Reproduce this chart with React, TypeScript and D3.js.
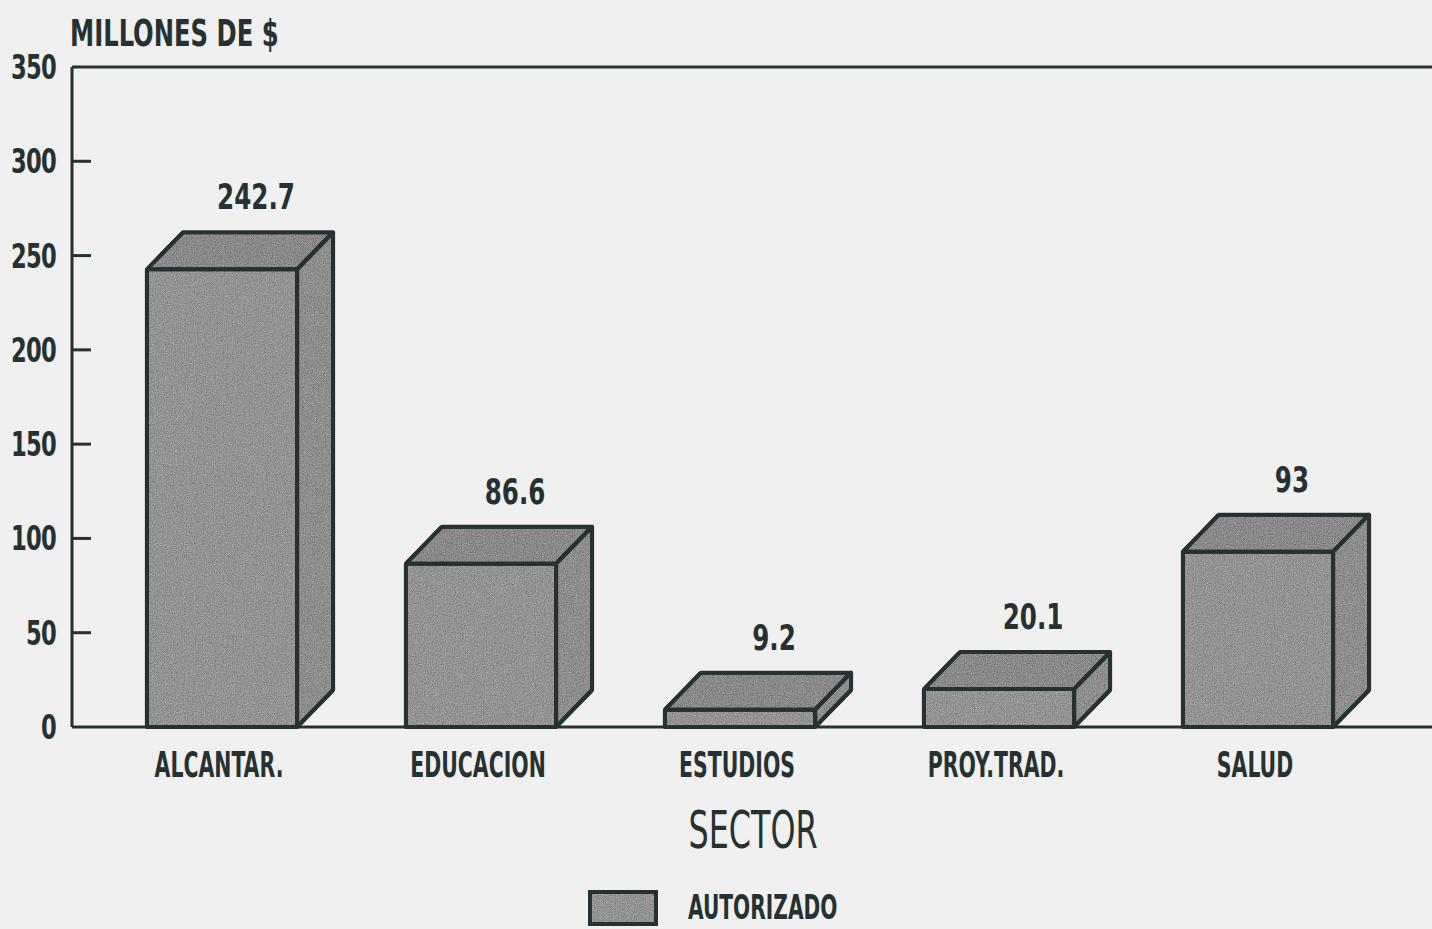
import React, { useEffect, useRef } from "react";
import * as d3 from "d3";

const sectors = ["ALCANTAR.", "EDUCACION", "ESTUDIOS", "PROY.TRAD.", "SALUD"];
const autorizado = [242.7, 86.6, 9.2, 20.1, 93];
const valueLabels = ["242.7", "86.6", "9.2", "20.1", "93"];
const yTicks = [0, 50, 100, 150, 200, 250, 300, 350];

const INK = "#263131";
const FONT = "'DejaVu Sans Condensed', 'DejaVu Sans', sans-serif";

// condensed plotter-style text: squeeze horizontally around the anchor point
function label(
  parent: d3.Selection<any, unknown, null, undefined>,
  x: number,
  y: number,
  str: string,
  size: number,
  sx: number,
  anchor = "start",
  bold = true
) {
  return parent
    .append("text")
    .attr("transform", `translate(${x},${y}) scale(${sx},1)`)
    .attr("text-anchor", anchor)
    .attr("font-family", FONT)
    .attr("font-weight", bold ? "bold" : "normal")
    .attr("font-size", size)
    .attr("fill", INK)
    .text(str);
}

export default function App() {
  const ref = useRef<SVGSVGElement | null>(null);

  useEffect(() => {
    const svg = d3.select(ref.current);
    svg.selectAll("*").remove();

    const W = 1432;
    const H = 929;
    const left = 72;
    const top = 67;
    const bottom = 727;
    const dx = 36;
    const dy = -37;

    // grain filter for the photocopied look
    const defs = svg.append("defs");
    const f = defs.append("filter").attr("id", "grain")
      .attr("x", 0).attr("y", 0).attr("width", 1).attr("height", 1)
      .attr("color-interpolation-filters", "sRGB");
    f.append("feTurbulence").attr("type", "fractalNoise").attr("baseFrequency", 0.9).attr("numOctaves", 2).attr("seed", 3).attr("result", "n");
    f.append("feColorMatrix").attr("in", "n").attr("type", "matrix")
      .attr("values", "0.34 0.33 0.33 0 0  0.34 0.33 0.33 0 0  0.34 0.33 0.33 0 0  0 0 0 0 1")
      .attr("result", "g");
    f.append("feComposite").attr("in", "SourceGraphic").attr("in2", "g").attr("operator", "arithmetic")
      .attr("k1", 0).attr("k2", 1).attr("k3", 0.6).attr("k4", -0.3).attr("result", "m");
    f.append("feComposite").attr("in", "m").attr("in2", "SourceGraphic").attr("operator", "in");

    svg.append("rect").attr("width", W).attr("height", H).attr("fill", "#f0f0f0");

    const x = d3.scaleBand<string>()
      .domain(sectors)
      .range([92.5, 1387.5])
      .paddingInner(0.42)
      .paddingOuter(0.21);

    const y = d3.scaleLinear().domain([0, 350]).range([bottom, top]);

    // frame
    const axis = svg.append("g").attr("stroke", INK).attr("stroke-width", 3).attr("fill", "none");
    axis.append("line").attr("x1", left).attr("x2", W).attr("y1", y(350)).attr("y2", y(350));
    axis.append("line").attr("x1", left).attr("x2", left).attr("y1", y(350)).attr("y2", y(0));
    axis.append("line").attr("x1", left).attr("x2", W).attr("y1", y(0)).attr("y2", y(0));
    axis.selectAll(".tick")
      .data(yTicks.filter(t => t > 0 && t < 350))
      .enter()
      .append("line")
      .attr("x1", left)
      .attr("x2", left + 19)
      .attr("y1", d => y(d))
      .attr("y2", d => y(d));

    const tickG = svg.append("g");
    yTicks.forEach(t => {
      label(tickG, 56, y(t) + 12, String(t), 34, 0.74, "end").attr("letter-spacing", -1);
    });

    // 3D bars
    const bars = svg.append("g");
    sectors.forEach((s, i) => {
      const x0 = x(s)!;
      const x1 = x0 + x.bandwidth();
      const yt = y(autorizado[i]);
      const yb = y(0);
      const g = bars.append("g").attr("stroke", INK).attr("stroke-width", 4).attr("stroke-linejoin", "round");
      g.append("path")
        .attr("d", `M${x0},${yt}L${x0 + dx},${yt + dy}L${x1 + dx},${yt + dy}L${x1},${yt}Z`)
        .attr("fill", "#898989")
        .attr("filter", "url(#grain)");
      g.append("path")
        .attr("d", `M${x1},${yt}L${x1 + dx},${yt + dy}L${x1 + dx},${yb + dy}L${x1},${yb}Z`)
        .attr("fill", "#8d8d8d")
        .attr("filter", "url(#grain)");
      g.append("rect")
        .attr("x", x0)
        .attr("y", yt)
        .attr("width", x.bandwidth())
        .attr("height", yb - yt)
        .attr("fill", "#939393")
        .attr("filter", "url(#grain)");
      g.append("path")
        .attr("d", `M${x0},${yt}L${x0 + dx},${yt + dy}L${x1 + dx},${yt + dy}L${x1},${yt}Z M${x1},${yt}L${x1 + dx},${yt + dy}L${x1 + dx},${yb + dy}L${x1},${yb}Z M${x0},${yt}H${x1}V${yb}H${x0}Z`)
        .attr("fill", "none");

      label(svg, x0 + x.bandwidth() / 2 + dx - 2, yt + dy - 23, valueLabels[i], 36, 0.76, "middle");
    });

    // category labels
    const catG = svg.append("g");
    sectors.forEach(s => {
      label(catG, x(s)! + x.bandwidth() / 2 - 3, 777, s, 35, 0.65, "middle");
    });

    label(svg, 753, 848, "SECTOR", 52, 0.68, "middle", false);
    label(svg, 70, 46, "MILLONES DE $", 38, 0.71);

    // legend
    svg.append("rect")
      .attr("x", 590)
      .attr("y", 892)
      .attr("width", 66)
      .attr("height", 32)
      .attr("fill", "#939393")
      .attr("filter", "url(#grain)");
    svg.append("rect")
      .attr("x", 590)
      .attr("y", 892)
      .attr("width", 66)
      .attr("height", 32)
      .attr("fill", "none")
      .attr("stroke", INK)
      .attr("stroke-width", 4);
    label(svg, 688, 919, "AUTORIZADO", 33, 0.68);
  }, []);

  return (
    <svg
      ref={ref}
      width={1432}
      height={929}
      style={{ position: "absolute", left: 0, top: 0, display: "block" }}
    />
  );
}
